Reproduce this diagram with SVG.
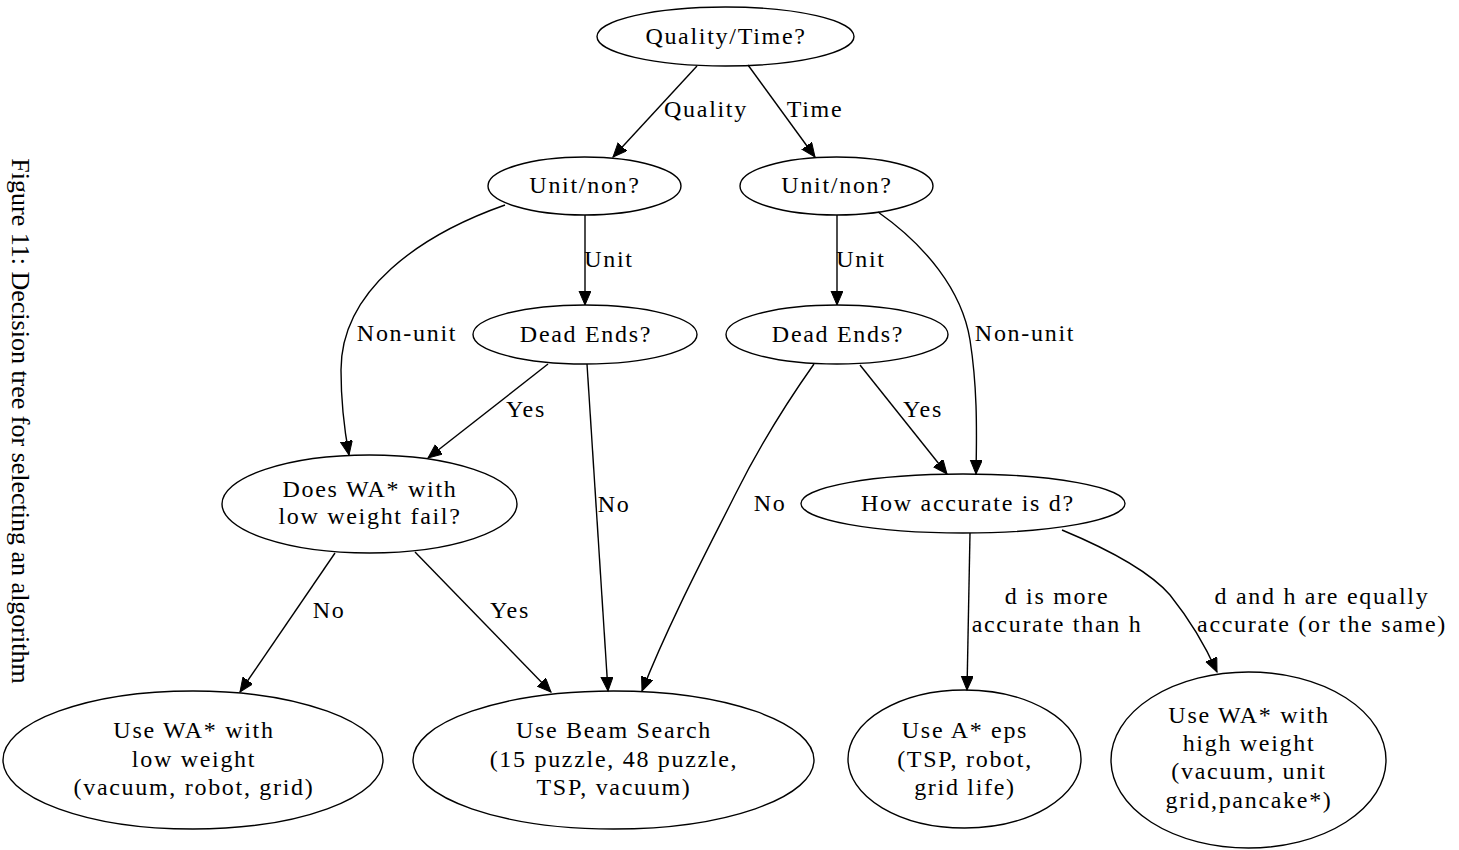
<svg xmlns="http://www.w3.org/2000/svg" width="1459" height="850" viewBox="0 0 1459 850">
<style>
  .node ellipse { fill: none; stroke: #000; stroke-width: 1.4; }
  .node text, .lbl { font-family: "Liberation Serif", "Times New Roman", serif; font-size: 24px; letter-spacing: 1.7px; fill: #000; text-anchor: middle; }
  .edge { fill: none; stroke: #000; stroke-width: 1.4; marker-end: url(#arrow); }
  .caption { font-family: "Liberation Serif", "Times New Roman", serif; font-size: 26px; fill: #000; text-anchor: middle; }
</style>
<defs>
  <marker id="arrow" markerUnits="userSpaceOnUse" markerWidth="16" markerHeight="14" refX="14" refY="6" orient="auto">
    <path d="M0,0 L14,6 L0,12 Z" fill="#000" stroke="#000" stroke-width="1"/>
  </marker>
</defs>
<rect x="0" y="0" width="1459" height="850" fill="#fff"/>

<text class="caption" transform="translate(12,421) rotate(90)">Figure 11: Decision tree for selecting an algorithm</text>

<g id="connectors">
  <g id="e-qt-ul"><path class="edge" d="M697,66 L613,157"/><text class="lbl" x="706" y="117">Quality</text></g>
  <g id="e-qt-ur"><path class="edge" d="M748,65 L815,157"/><text class="lbl" x="815" y="117">Time</text></g>
  <g id="e-ul-dl"><path class="edge" d="M585,215 L585,305"/><text class="lbl" x="609" y="267">Unit</text></g>
  <g id="e-ul-wa"><path class="edge" d="M505,205 C420,235 341,290 341,370 C341,400 344,428 349,455"/><text class="lbl" x="407" y="341">Non-unit</text></g>
  <g id="e-dl-wa"><path class="edge" d="M548,364 L428,458"/><text class="lbl" x="526" y="417">Yes</text></g>
  <g id="e-dl-bs"><path class="edge" d="M587,364 L608,691"/><text class="lbl" x="614" y="512">No</text></g>
  <g id="e-wa-lw"><path class="edge" d="M335,553 L240,692"/><text class="lbl" x="329" y="618">No</text></g>
  <g id="e-wa-bs"><path class="edge" d="M415,552 L551,692"/><text class="lbl" x="510" y="618">Yes</text></g>
  <g id="e-ur-dr"><path class="edge" d="M837,215 L837,305"/><text class="lbl" x="861" y="267">Unit</text></g>
  <g id="e-ur-ha"><path class="edge" d="M878,212 C925,245 962,290 970,340 C977,385 977,425 976,474"/><text class="lbl" x="1025" y="341">Non-unit</text></g>
  <g id="e-dr-ha"><path class="edge" d="M860,365 L947,474"/><text class="lbl" x="923" y="417">Yes</text></g>
  <g id="e-dr-bs"><path class="edge" d="M814,364 C780,412 755,455 735,495 C710,545 670,620 642,691"/><text class="lbl" x="770" y="511">No</text></g>
  <g id="e-ha-ae"><path class="edge" d="M970,533 L967,690"/><text class="lbl" x="1057" y="604">d is more</text><text class="lbl" x="1057" y="632">accurate than h</text></g>
  <g id="e-ha-hw"><path class="edge" d="M1062,530 C1110,550 1150,572 1170,595 C1190,620 1205,645 1217,672"/><text class="lbl" x="1322" y="604">d and h are equally</text><text class="lbl" x="1322" y="632">accurate (or the same)</text></g>
</g>

<g id="n-qualitytime" class="node"><ellipse cx="725.5" cy="36.5" rx="128.5" ry="29.5"/><text x="726" y="44">Quality/Time?</text></g>
<g id="n-unit-left" class="node"><ellipse cx="584.5" cy="186" rx="96.5" ry="29"/><text x="585" y="193">Unit/non?</text></g>
<g id="n-unit-right" class="node"><ellipse cx="836.5" cy="186" rx="96.5" ry="29"/><text x="837" y="193">Unit/non?</text></g>
<g id="n-dead-left" class="node"><ellipse cx="585" cy="334.5" rx="112" ry="29.5"/><text x="586" y="342">Dead Ends?</text></g>
<g id="n-dead-right" class="node"><ellipse cx="837" cy="334.5" rx="111" ry="29.5"/><text x="838" y="342">Dead Ends?</text></g>
<g id="n-doeswa" class="node"><ellipse cx="369.5" cy="504" rx="147.5" ry="49"/><text x="370" y="497">Does WA* with</text><text x="370" y="524">low weight fail?</text></g>
<g id="n-howacc" class="node"><ellipse cx="963" cy="503.5" rx="162" ry="29.5"/><text x="968" y="511">How accurate is d?</text></g>
<g id="n-lowweight" class="node"><ellipse cx="193" cy="760" rx="190" ry="69"/><text x="194" y="738">Use WA* with</text><text x="194" y="767">low weight</text><text x="194" y="795">(vacuum, robot, grid)</text></g>
<g id="n-beam" class="node"><ellipse cx="613.5" cy="760" rx="200.5" ry="69"/><text x="614" y="738">Use Beam Search</text><text x="614" y="767">(15 puzzle, 48 puzzle,</text><text x="614" y="795">TSP, vacuum)</text></g>
<g id="n-astareps" class="node"><ellipse cx="964.5" cy="759" rx="116.5" ry="69"/><text x="965" y="738">Use A* eps</text><text x="965" y="767">(TSP, robot,</text><text x="965" y="795">grid life)</text></g>
<g id="n-highweight" class="node"><ellipse cx="1248.5" cy="760" rx="137.5" ry="88"/><text x="1249" y="723">Use WA* with</text><text x="1249" y="751">high weight</text><text x="1249" y="779">(vacuum, unit</text><text x="1249" y="808">grid,pancake*)</text></g>
</svg>
